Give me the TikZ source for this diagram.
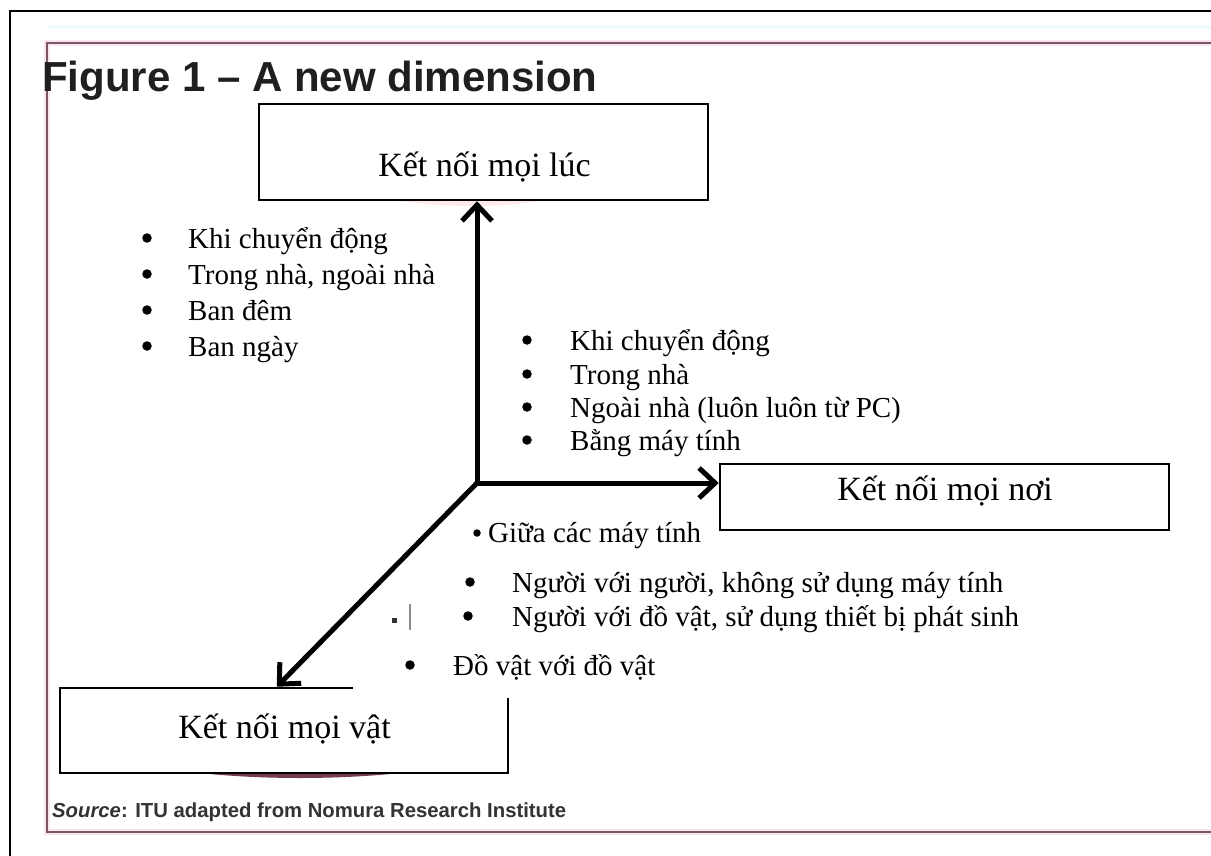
\documentclass[tikz,border=0pt]{standalone}
\usepackage{fontspec}
\setmainfont{Liberation Serif}
\newfontfamily\arialf{Liberation Sans}
\usetikzlibrary{arrows.meta,calc}
\definecolor{mauve}{RGB}{125,85,105}
\definecolor{haze}{RGB}{250,230,238}
\definecolor{maroon}{RGB}{95,25,45}
\begin{document}
\begin{tikzpicture}[x=1pt,y=-1pt,
  boxst/.style={draw=black,line width=2.5pt,fill=white,inner sep=0pt,rectangle},
  axisarrow/.style={line width=5pt,-{Straight Barb[length=16pt,width=30pt]}},
  bul/.style={circle,fill=black,inner sep=0pt,minimum size=9.5pt,yshift=10pt},
  smallbul/.style={circle,fill=black,inner sep=0pt,minimum size=7.5pt,yshift=9pt},
  itm/.style={anchor=base west,inner sep=0pt,font=\fontsize{29}{35}\selectfont},
  lbl/.style={anchor=base,inner sep=0pt,font=\fontsize{34}{40}\selectfont},
]
\useasboundingbox (0,0) rectangle (1211,856);
\fill[white] (0,0) rectangle (1211,856);
% frames
\draw[line width=2pt] (10,856) -- (10,11) -- (1211,11);
\draw[line width=4pt,cyan!6] (47,27) -- (1211,27);
\draw[line width=6pt,haze] (1211,43) -- (47,43) -- (47,832) -- (1211,832);
\draw[line width=2.2pt,mauve] (1211,43) -- (47,43) -- (47,832) -- (1211,832);
% title and source
\node[anchor=base west,inner sep=0pt,font=\arialf\bfseries\fontsize{42}{48}\selectfont,text=black!88] (title) at (42,92) {Figure 1 – A new dimension};
\node[anchor=base west,inner sep=0pt,font=\arialf\bfseries\fontsize{20.3}{24}\selectfont,text=black!80] (source) at (52,817) {\textit{Source}: ITU adapted from Nomura Research Institute};
% shadows
\fill[pink!35] (395,200) .. controls (440,208) and (500,208) .. (545,200) -- cycle;
\fill[maroon,opacity=0.85] (190,772) .. controls (260,780) and (340,780) .. (410,772) -- cycle;
% boxes
\node[boxst,minimum width=449pt,minimum height=96pt] (luc) at (483.5,152) {};
\node[boxst,minimum width=449pt,minimum height=66pt] (noi) at (944.5,497) {};
\node[boxst,minimum width=448pt,minimum height=85pt] (vat) at (284,730.5) {};
% axes
\coordinate (O) at (477,483);
\draw[axisarrow] (O) -- (O |- luc.south);
\draw[axisarrow] (O) -- (O -| noi.west);
\draw[axisarrow] (O) -- ($(vat.north west)+(218,0)$);
% white patch over the lower box
\fill[white] (353,637) rectangle (700,698);
% small stray marks
\fill[black!80] (392,618) rectangle (397,623);
\draw[line width=1.5pt,black!45] (410,604) -- (410,630);
% box labels
\node[lbl] (luct) at (484.5,177) {Kết nối mọi lúc};
\node[lbl] (noit) at (945,500) {Kết nối mọi nơi};
\node[lbl] (vatt) at (284.5,738) {Kết nối mọi vật};
% left list
\node[bul] (lb1) at (147,248) {}; \node[itm] (l1) at (188,248) {Khi chuyển động};
\node[bul] (lb2) at (147,284) {}; \node[itm] (l2) at (188,284) {Trong nhà, ngoài nhà};
\node[bul] (lb3) at (147,320) {}; \node[itm] (l3) at (188,320) {Ban đêm};
\node[bul] (lb4) at (147,356) {}; \node[itm] (l4) at (188,356) {Ban ngày};
% right list
\node[bul] (rb1) at (527,350) {}; \node[itm] (r1) at (570,350) {Khi chuyển động};
\node[bul] (rb2) at (527,384) {}; \node[itm] (r2) at (570,384) {Trong nhà};
\node[bul] (rb3) at (527,417) {}; \node[itm] (r3) at (570,417) {Ngoài nhà (luôn luôn từ PC)};
\node[bul] (rb4) at (527,450) {}; \node[itm] (r4) at (570,450) {Bằng máy tính};
% lower list
\node[smallbul] (gb) at (477,542) {}; \node[itm] (g) at (488,542) {Giữa các máy tính};
\node[bul] (nb1) at (470,592) {}; \node[itm] (n1) at (512,592) {Người với người, không sử dụng máy tính};
\node[bul] (nb2) at (468,626) {}; \node[itm] (n2) at (512,626) {Người với đồ vật, sử dụng thiết bị phát sinh};
\node[bul] (db) at (410,675) {}; \node[itm] (d) at (453,675) {Đồ vật với đồ vật};
\end{tikzpicture}
\end{document}
